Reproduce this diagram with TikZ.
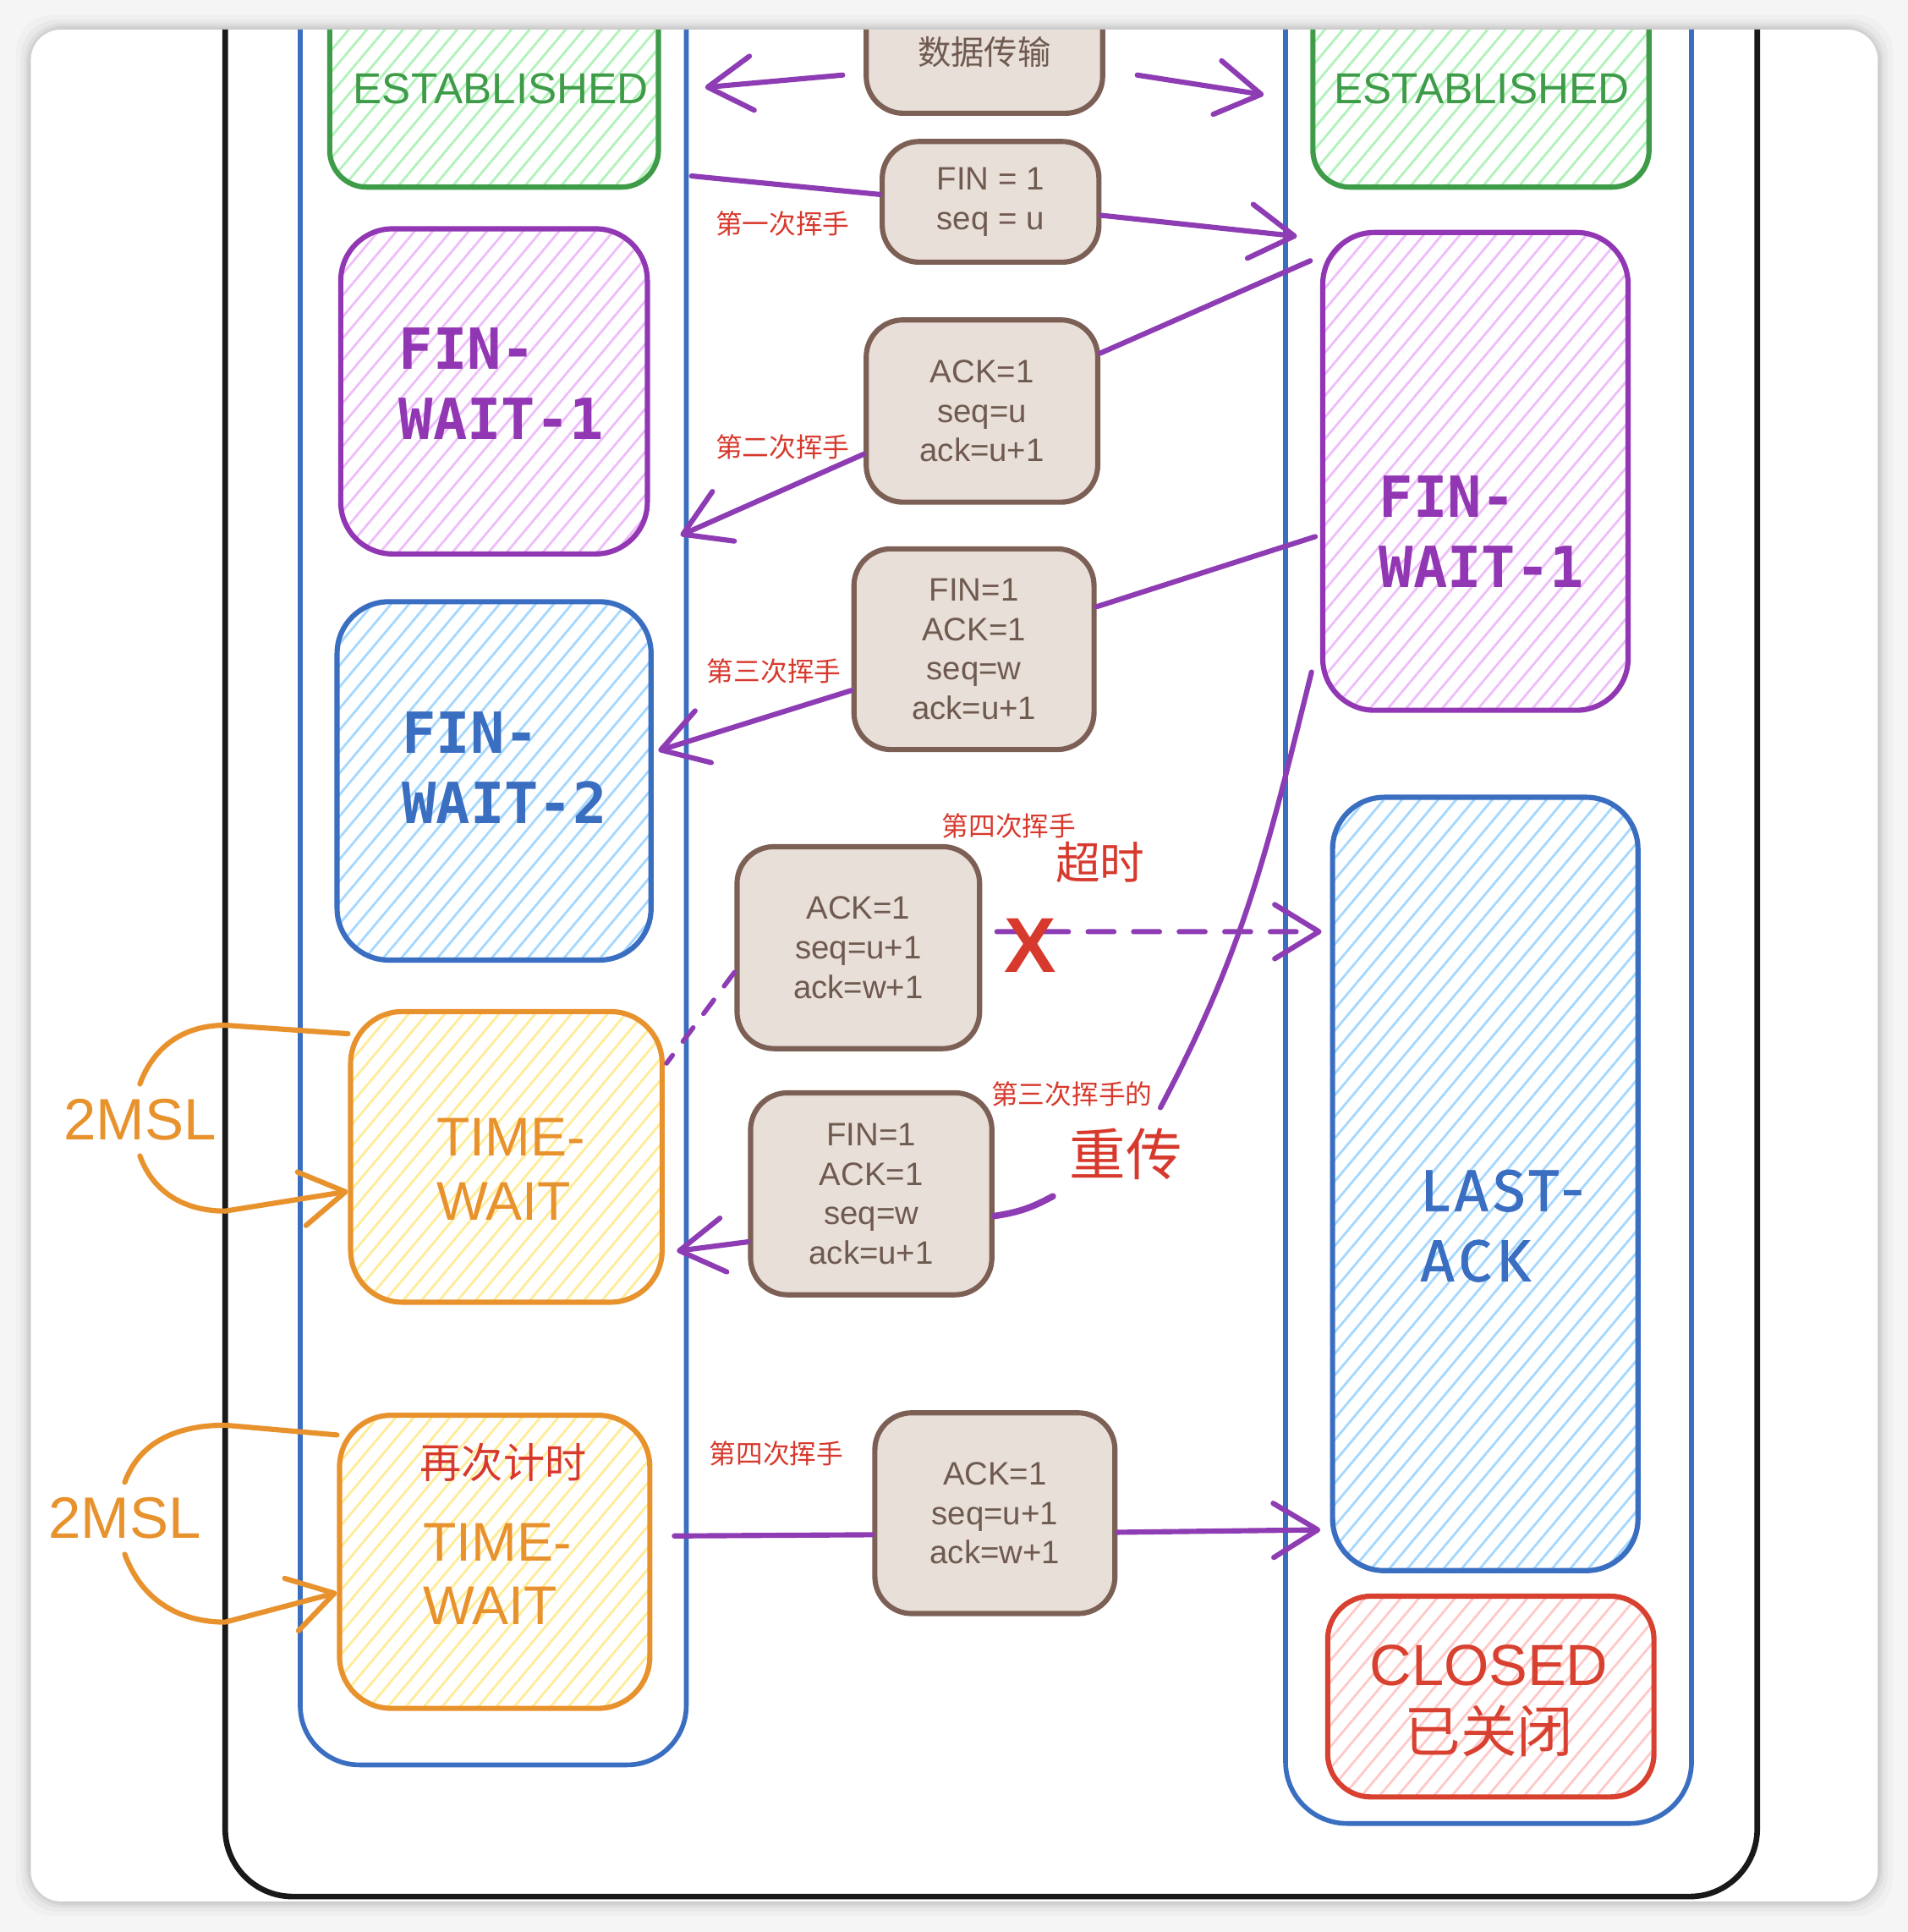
\documentclass[tikz,border=0pt]{standalone}
\usepackage{fontspec}
\setmainfont{Liberation Sans}
\newfontfamily\cjk{Noto Sans CJK SC}
\newfontfamily\fwfont{DejaVu Sans Mono}
\newfontfamily\lastfont[LetterSpace=8,FakeBold=1.2]{Fira Sans}
\usepackage{xcolor}
\usetikzlibrary{arrows.meta,patterns.meta}

\definecolor{estgreen}{HTML}{3E9B48}
\definecolor{esthatch}{HTML}{B2F2BB}
\definecolor{fwpurple}{HTML}{9237B3}
\definecolor{fwhatch}{HTML}{EEBEFA}
\definecolor{colblue}{HTML}{3A6EC1}
\definecolor{bluehatch}{HTML}{A5D8FF}
\definecolor{tworange}{HTML}{E8922D}
\definecolor{twhatch}{HTML}{FFEC99}
\definecolor{clred}{HTML}{D8402F}
\definecolor{clhatch}{HTML}{FFC9C9}
\definecolor{msgbrown}{HTML}{7D6055}
\definecolor{msgfill}{HTML}{E8DFD8}
\definecolor{msgtext}{HTML}{6F5A50}
\definecolor{arrowpurple}{HTML}{8E3CB4}
\definecolor{notered}{HTML}{D7392D}

\begin{document}
\begin{tikzpicture}[x=0.01cm, y=-0.01cm, >={Straight Barb[round,length=0.36cm,width=0.44cm]},
  state/.style={draw=#1, line width=1.2pt, rounded corners=0.42cm, inner sep=0pt},
  hatch/.style={pattern={Lines[angle=50,distance=3.2pt,line width=0.55pt]}, pattern color=#1},
  msg/.style={draw=msgbrown, fill=msgfill, line width=1.2pt, rounded corners=0.3cm, inner sep=0pt, align=center, text=msgtext, font=\fontsize{7.5}{9.1}\selectfont},
  flow/.style={draw=arrowpurple, line width=1.2pt, line cap=round},
  note/.style={text=notered, font=\cjk\fontsize{6.2}{7}\selectfont, inner sep=0pt},
  msl/.style={draw=tworange, line width=1.2pt, line cap=round}]

  % Card
  \useasboundingbox (0,0) rectangle (1550.5,1569.8);
  \fill[black!4] (0,0) rectangle (1550.5,1569.8);
  \foreach \s/\o in {12/0.02,8/0.03,5/0.04,3/0.05,1/0.06}
    \fill[black, opacity=\o, rounded corners=0.3cm] (25-\s,24-\s) rectangle (1526+\s,1545+\s);
  \fill[white, rounded corners=0.25cm] (25,24) rectangle (1526,1545);

  \begin{scope}
  \clip[rounded corners=0.25cm] (25,24) rectangle (1526,1545);

  % Frame and columns
  \draw[line width=1.3pt, black!90, rounded corners=0.55cm] (183,-20) |- (1428,1541) -- (1428,-20);
  \draw[colblue, line width=1.1pt, rounded corners=0.48cm] (244,-20) |- (557.7,1434) -- (557.7,-20);
  \draw[colblue, line width=1.1pt, rounded corners=0.5cm] (1044.7,-20) |- (1374.6,1481.6) -- (1374.6,-20);

  % Client states
  \node (lest) [state=estgreen, hatch=esthatch, rounded corners=0.3cm, minimum width=2.67cm, minimum height=1.6cm] at (401.5,72) {};
  \node (lesta) [text=estgreen, font=\fontsize{10}{12}\selectfont] at (407,72) {ESTABLISHED};
  \node (lfw1) [state=fwpurple, hatch=fwhatch, minimum width=2.49cm, minimum height=2.64cm] at (401.5,318) {};
  \node (lfw1a) [text=fwpurple, font=\fwfont\bfseries\fontsize{13.1}{16.2}\selectfont, align=left] at (407.5,311.5) {FIN-\\WAIT-1};
  \node (lfw2) [state=colblue, hatch=bluehatch, minimum width=2.55cm, minimum height=2.91cm] at (401.5,634.5) {};
  \node (lfw2a) [text=colblue, font=\fwfont\bfseries\fontsize{13.1}{16.2}\selectfont, align=left] at (410,624) {FIN-\\WAIT-2};
  \node (tw1) [state=tworange, hatch=twhatch, minimum width=2.53cm, minimum height=2.36cm] at (411.5,940) {};
  \node (tw1a) [text=tworange, font=\fontsize{12.6}{14.8}\selectfont, align=left] at (415,950) {TIME-\\WAIT};
  \node (tw2) [state=tworange, hatch=twhatch, minimum width=2.52cm, minimum height=2.38cm] at (402,1269) {};
  \node (tw2a) [text=notered, font=\cjk\fontsize{9.6}{11}\selectfont] at (409,1188) {再次计时};
  \node (tw2b) [text=tworange, font=\fontsize{12.6}{14.8}\selectfont, align=left] at (404,1279) {TIME-\\WAIT};

  % Server states
  \node (rest) [state=estgreen, hatch=esthatch, rounded corners=0.3cm, minimum width=2.73cm, minimum height=1.6cm] at (1203.5,72) {};
  \node (resta) [text=estgreen, font=\fontsize{10}{12}\selectfont] at (1204,72) {ESTABLISHED};
  \node (rfw1) [state=fwpurple, hatch=fwhatch, minimum width=2.48cm, minimum height=3.88cm] at (1199,383) {};
  \node (rfw1a) [text=fwpurple, font=\fwfont\bfseries\fontsize{13.1}{16.2}\selectfont, align=left] at (1204,432) {FIN-\\WAIT-1};
  \node (last) [state=colblue, hatch=bluehatch, minimum width=2.48cm, minimum height=6.28cm] at (1207,962) {};
  \node (lasta) [text=colblue, font=\lastfont\fontsize{13.6}{16.2}\selectfont, align=left] at (1221,996) {LAST-\\ACK};
  \node (closed) [state=clred, hatch=clhatch, rounded corners=0.35cm, minimum width=2.65cm, minimum height=1.63cm] at (1211.5,1378.5) {};
  \node (closeda) [text=clred, align=center, font=\fontsize{13.4}{15.4}\selectfont] at (1210,1382) {CLOSED\\{\cjk\fontsize{13}{15.4}\selectfont 已关闭}};

  % Segments
  \node (data) [msg, minimum width=1.92cm, minimum height=1.0cm, font=\cjk\fontsize{7.7}{9}\selectfont] at (800,42) {数据传输};
  \node (fin1) [msg, minimum width=1.76cm, minimum height=0.98cm] at (805,164) {FIN = 1\\seq = u};
  \node (ack2) [msg, minimum width=1.88cm, minimum height=1.48cm] at (798,334) {ACK=1\\seq=u\\ack=u+1};
  \node (fin3) [msg, minimum width=1.95cm, minimum height=1.63cm] at (791.5,527.5) {FIN=1\\ACK=1\\seq=w\\ack=u+1};
  \node (ack4) [msg, minimum width=1.97cm, minimum height=1.64cm] at (697.5,770) {ACK=1\\seq=u+1\\ack=w+1};
  \node (fin3r) [msg, minimum width=1.96cm, minimum height=1.64cm] at (708,970) {FIN=1\\ACK=1\\seq=w\\ack=u+1};
  \node (ack4r) [msg, minimum width=1.95cm, minimum height=1.63cm] at (808.5,1229.5) {ACK=1\\seq=u+1\\ack=w+1};

  % Arrow ends on the columns
  \coordinate (lin0) at (573,71);
  \coordinate (rin0) at (1027,77);
  \coordinate (lout1) at (562,143);
  \coordinate (rin1) at (1054,192);
  \coordinate (lin2) at (553,435);
  \coordinate (lin3) at (535,610);
  \coordinate (rin4) at (1074,757);
  \coordinate (rgap) at (855.6,972);
  \coordinate (rtop) at (943,900);
  \coordinate (lin6) at (550,1016.5);
  \coordinate (lout7) at (548,1248);
  \coordinate (rin7) at (1073,1243);

  % Handshake arrows
  \draw[flow, ->] ([xshift=-0.17cm,yshift=-0.19cm]data.west) -- (lin0);
  \draw[flow, ->] ([xshift=0.26cm,yshift=-0.19cm]data.east) -- (rin0);
  \draw[flow] (lout1) -- ([yshift=0.06cm]fin1.west);
  \draw[flow, ->] ([yshift=-0.11cm]fin1.east) -- (rin1);
  \draw[flow] ([xshift=-0.08cm,yshift=1.71cm]rfw1.west) -- ([yshift=0.47cm]ack2.east);
  \draw[flow, ->] ([yshift=-0.35cm]ack2.west) -- (lin2);
  \draw[flow] ([xshift=-0.04cm,yshift=-0.53cm]rfw1.west) -- ([yshift=0.345cm]fin3.east);
  \draw[flow, ->] ([yshift=-0.335cm]fin3.west) -- (lin3);
  \draw[flow, ->, dash pattern=on 0.21cm off 0.16cm] ([xshift=0.12cm,yshift=0.13cm]ack4.east) -- (rin4); % lost
  \draw[flow, line width=1.1pt, dash pattern=on 0.14cm off 0.14cm] ([yshift=-0.2cm]ack4.west) -- ([xshift=0.015cm,yshift=0.76cm]tw1.east);
  \draw[flow] ([xshift=-0.07cm,yshift=-1.63cm]rfw1.west) to[out=-104, in=62] (rtop); % retransmission
  \draw[flow, line width=1.5pt] ([yshift=-0.18cm]fin3r.east) to[bend right=10] (rgap);
  \draw[flow, ->] ([yshift=-0.39cm]fin3r.west) -- (lin6);
  \draw[flow] (lout7) -- ([yshift=-0.175cm]ack4r.west);
  \draw[flow, ->] ([yshift=-0.155cm]ack4r.east) -- (rin7);

  % 2MSL timers
  \node (msl1) [text=tworange, font=\fontsize{13.5}{15}\selectfont] at (113.7,910) {2MSL};
  \draw[msl] ([yshift=1.0cm]tw1.west) -- (183,833) to[out=180, in=70] (msl1.north);
  \draw[msl, ->] (msl1.south) to[out=-70, in=180] (183,984) -- ([yshift=-0.28cm]tw1.west);
  \node (msl2) [text=tworange, font=\fontsize{13.5}{15}\selectfont] at (101.4,1233.6) {2MSL};
  \draw[msl] ([yshift=1.03cm]tw2.west) -- (183,1158) to[out=180, in=70] (msl2.north);
  \draw[msl, ->] (msl2.south) to[out=-70, in=180] (183,1318) -- ([yshift=-0.25cm]tw2.west);

  % Labels
  \node (n1) [note] at (636,182) {第一次挥手};
  \node (n2) [note] at (636,363) {第二次挥手};
  \node (n3) [note] at (629,545) {第三次挥手};
  \node (n4) [note] at (820,671) {第四次挥手};
  \node (n4a) [note, font=\cjk\fontsize{10.3}{12}\selectfont] at (894,701) {超时};
  \node (lost) [text=notered, font=\bfseries\fontsize{18}{20}\selectfont, inner sep=0pt] at (837,768) {X};
  \node (n5) [note] at (871,889) {第三次挥手的};
  \node (n5a) [note, font=\cjk\fontsize{13}{15}\selectfont] at (915,938) {重传};
  \node (n6) [note] at (631,1181) {第四次挥手};

  \end{scope}
\end{tikzpicture}
\end{document}
